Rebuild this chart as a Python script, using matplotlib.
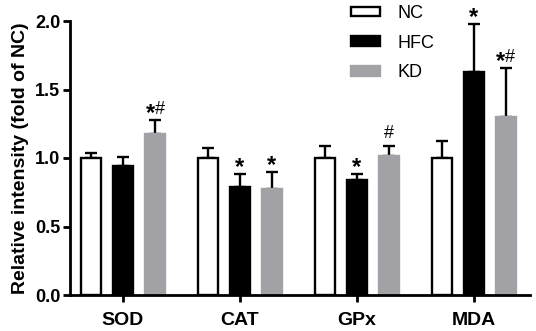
import matplotlib
matplotlib.use("Agg")
import matplotlib.pyplot as plt
import numpy as np

plt.rcParams['font.family'] = ['Liberation Sans', 'DejaVu Sans']

categories = ["SOD", "CAT", "GPx", "MDA"]
groups = ["NC", "HFC", "KD"]
nc_vals = [1.00, 1.00, 1.00, 1.00]
nc_err = [0.035, 0.075, 0.085, 0.125]
hfc_vals = [0.94, 0.786, 0.842, 1.629]
hfc_err = [0.07, 0.10, 0.042, 0.35]
kd_vals = [1.174, 0.777, 1.018, 1.302]
kd_err = [0.10, 0.12, 0.066, 0.355]
# significance marks per group / series
hfc_marks = ["", "*", "*", "*"]
kd_marks = ["*#", "*", "#", "*#"]

colors = ["white", "black", "#a2a2a6"]
edges = ["black", "black", "#a2a2a6"]

fig = plt.figure(figsize=(5.36, 3.31), dpi=100)
ax = fig.add_axes([70/536, 1-295/331, 460/536, 274/331])

x = np.arange(len(categories))
off = 0.274
w = 0.171
series = [(nc_vals, nc_err), (hfc_vals, hfc_err), (kd_vals, kd_err)]
for i, ((v, e), g) in enumerate(zip(series, groups)):
    pos = x + (i - 1) * off
    ax.bar(pos, v, width=w, color=colors[i], edgecolor=edges[i], linewidth=1.7,
           label=g, zorder=2)
    ax.errorbar(pos, v, yerr=[np.zeros(len(e)), e], fmt='none', ecolor='black',
                elinewidth=1.7, capsize=4, capthick=1.7, zorder=1)

PX = 0.72  # points per pixel at 100 dpi

def star(xpos, ytop, dx):
    ax.annotate("*", (xpos, ytop), xytext=(dx * PX, 0 * PX), textcoords='offset points',
                ha='center', va='baseline', fontsize=17, fontweight='bold')

def hash_(xpos, ytop, dx, dy=9):
    ax.annotate("#", (xpos, ytop), xytext=(dx * PX, dy * PX), textcoords='offset points',
                ha='center', va='baseline', fontsize=13)

def mark(xpos, ytop, s):
    if s == "*":
        star(xpos, ytop, 0)
    elif s == "#":
        hash_(xpos, ytop, 0, 8)
    elif s == "*#":
        star(xpos, ytop, -5)
        hash_(xpos, ytop, 4.5, 6)

for j in range(len(categories)):
    mark(x[j], hfc_vals[j] + hfc_err[j], hfc_marks[j])
    mark(x[j] + off, kd_vals[j] + kd_err[j], kd_marks[j])

ax.set_xlim(-0.453, 3.48)
ax.set_ylim(0, 2.0)
ax.set_yticks([0.0, 0.5, 1.0, 1.5, 2.0])
ax.set_yticklabels(["0.0", "0.5", "1.0", "1.5", "2.0"])
ax.set_xticks(x)
ax.set_xticklabels(categories)
for s in ["top", "right"]:
    ax.spines[s].set_visible(False)
for s in ["left", "bottom"]:
    ax.spines[s].set_linewidth(2.0)
ax.tick_params(axis='both', width=2.0, length=5, direction='out')
ax.tick_params(axis='y', labelsize=13, pad=2)
ax.tick_params(axis='x', labelsize=14, pad=7)
for t in ax.get_xticklabels() + ax.get_yticklabels():
    t.set_fontweight('bold')
ax.set_ylabel("Relative intensity (fold of NC)", fontsize=14, fontweight='bold', labelpad=4)

leg = ax.legend(loc='upper left', bbox_to_anchor=(0.5957, 1.0847), frameon=False,
                borderaxespad=0, fontsize=13, handlelength=1.6, handleheight=0.45,
                labelspacing=0.7, handletextpad=0.95)

fig.savefig("out.png", dpi=100)
